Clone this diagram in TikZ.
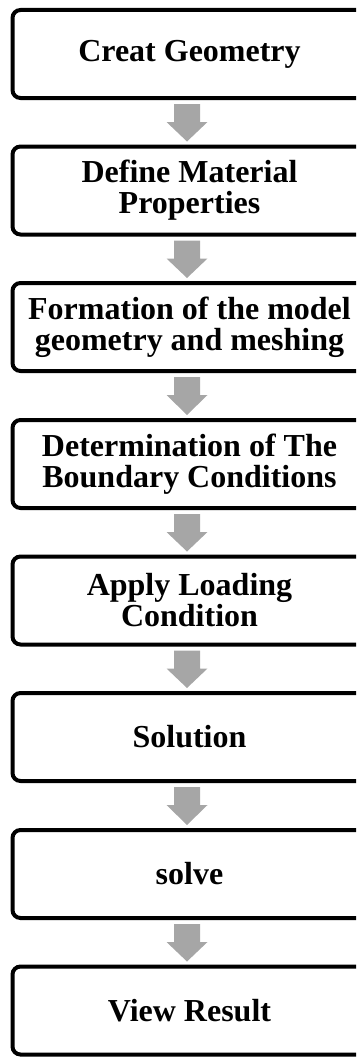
\documentclass[tikz,border=0pt]{standalone}
\usepackage{fontspec}
\setmainfont{Liberation Serif}
\usetikzlibrary{calc}
\definecolor{arrowgray}{RGB}{166,166,166}
\tikzset{
  stepbox/.style={draw=black, line width=4pt, rounded corners=8pt, fill=white,
    minimum width=354pt, minimum height=88pt, inner sep=0pt,
    align=center, font=\bfseries\fontsize{32}{31}\selectfont},
}
% gray block arrow from the bottom of #1 to the top of #2
\newcommand\flowarrow[2]{%
  \fill[arrowgray]
    ($(#1.south)+(-15.5,4)$) -- ($(#1.south)+(10.5,4)$) --
    ($(#1.south)+(10.5,22)$) -- ($(#1.south)+(18,22)$) --
    ($(#2.north)+(-2.5,-3)$) --
    ($(#1.south)+(-23,22)$) -- ($(#1.south)+(-15.5,22)$) -- cycle;}
\begin{document}
\begin{tikzpicture}[x=1pt, y=-1pt]
  \useasboundingbox (0,0) rectangle (356,1057);
  \begin{scope}
    \clip (0,0) rectangle (356,1057);
    \node[stepbox] (geo)  at (189.5,54)    {Creat Geometry};
    \node[stepbox] (mat)  at (189.5,190.5) {Define Material\\Properties};
    \node[stepbox] (mesh) at (189.5,327)   {Formation of the model\\geometry and meshing};
    \node[stepbox] (bc)   at (189.5,464)   {Determination of The\\Boundary Conditions};
    \node[stepbox] (load) at (189.5,600.5) {Apply Loading\\Condition};
    \node[stepbox] (sol)  at (189.5,737)   {Solution};
    \node[stepbox] (slv)  at (189.5,874)   {solve};
    \node[stepbox] (res)  at (189.5,1010.5){View Result};
  \end{scope}
  \flowarrow{geo}{mat}
  \flowarrow{mat}{mesh}
  \flowarrow{mesh}{bc}
  \flowarrow{bc}{load}
  \flowarrow{load}{sol}
  \flowarrow{sol}{slv}
  \flowarrow{slv}{res}
\end{tikzpicture}
\end{document}
